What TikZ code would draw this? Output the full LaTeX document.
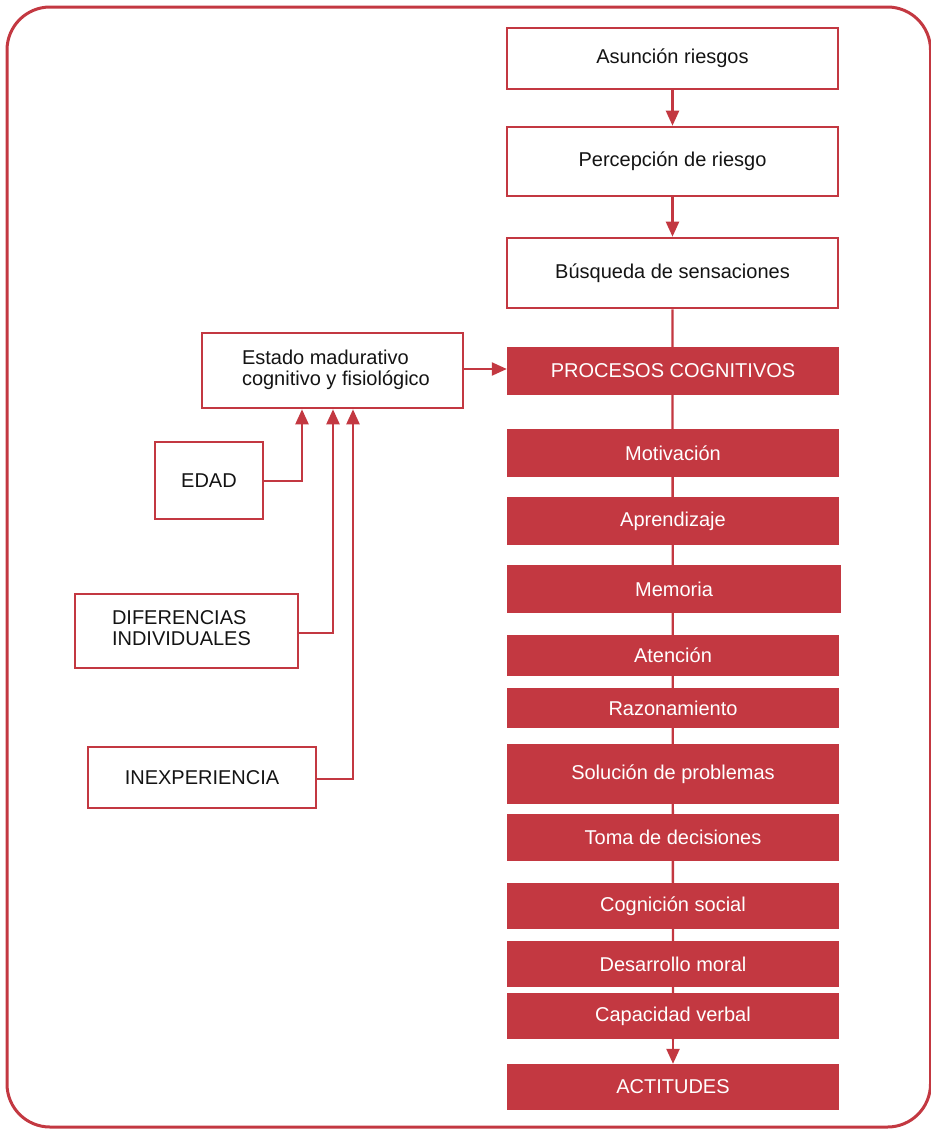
\documentclass[tikz,border=0pt]{standalone}
\usepackage{fontspec}
\setmainfont{Liberation Sans}
\usetikzlibrary{arrows.meta}
\definecolor{rojo}{RGB}{195,56,65}
\definecolor{tinta}{RGB}{20,20,20}
\tikzset{
  frame/.style={draw=rojo, line width=3pt, rounded corners=43pt},
  openbox/.style={draw=rojo, line width=2.6pt, fill=white, text=tinta,
    rectangle, inner sep=0pt, font=\fontsize{20}{21}\selectfont},
  fillbox/.style={fill=rojo, draw=none, text=white, rectangle, inner sep=0pt,
    font=\fontsize{20}{21}\selectfont},
  link/.style={draw=rojo, line width=2.3pt},
  arrowlink/.style={link, -{Triangle[length=15pt,width=13pt]}},
}
% a box given by its left, top, right and bottom edges (y grows downwards)
\newcommand\edgebox[7]{%
  \node[#1, minimum width={(#5)-(#3)}, minimum height={(#6)-(#4)}]
    (#2) at ({((#3)+(#5))/2},{((#4)+(#6))/2}) {#7};}
% two flush-left lines set in a slot of the given width
\newcommand\leftpair[3]{\makebox[#1][l]{\begin{tabular}{@{}l@{}}#2\\#3\end{tabular}}}
\begin{document}
\begin{tikzpicture}[x=1pt, y=-1pt]
\useasboundingbox (0,0) rectangle (931,1130);
\draw[frame] (7,7) rectangle (930.5,1127);

% main column
\edgebox{openbox}{asun}{507}{28}{838}{89}{Asunción riesgos}
\edgebox{openbox}{perc}{507}{127}{838}{196}{Percepción de riesgo}
\edgebox{openbox}{busq}{507}{238}{838}{308}{Búsqueda de sensaciones}

% influences on maturity
\edgebox{openbox}{estado}{202}{333}{463}{408}{\leftpair{181pt}{Estado madurativo}{cognitivo y fisiológico}}
\edgebox{openbox}{edad}{155}{442}{263}{519}{EDAD}
\edgebox{openbox}{dif}{75}{594}{298}{668}{\leftpair{149pt}{DIFERENCIAS}{INDIVIDUALES}}
\edgebox{openbox}{inex}{88}{747}{316}{808}{INEXPERIENCIA}

% vertical spine behind the process boxes
\draw[link] (busq.south) -- (673,1040);

\edgebox{fillbox}{proc}{507}{347}{839}{395}{PROCESOS COGNITIVOS}
\edgebox{fillbox}{moti}{507}{429}{839}{477}{Motivación}
\edgebox{fillbox}{apre}{507}{497}{839}{545}{Aprendizaje}
\edgebox{fillbox}{memo}{507}{565}{841}{613}{Memoria}
\edgebox{fillbox}{aten}{507}{635}{839}{676}{Atención}
\edgebox{fillbox}{razo}{507}{688}{839}{728}{Razonamiento}
\edgebox{fillbox}{solu}{507}{744}{839}{804}{Solución de problemas}
\edgebox{fillbox}{toma}{507}{814}{839}{861}{Toma de decisiones}
\edgebox{fillbox}{cogn}{507}{883}{839}{929}{Cognición social}
\edgebox{fillbox}{desa}{507}{941}{839}{987}{Desarrollo moral}
\edgebox{fillbox}{capa}{507}{993}{839}{1039}{Capacidad verbal}
\edgebox{fillbox}{acti}{507}{1064}{839}{1110}{ACTITUDES}

% arrows along the main column
\draw[arrowlink] (asun.south) -- (perc.north);
\draw[arrowlink] (perc.south) -- (busq.north);
\draw[arrowlink] (capa.south) -- (acti.north);

% maturity feeds the cognitive processes
\draw[arrowlink] (estado.east |- 0,369) -- (proc.west |- 0,369);

% factors feeding the maturity box
\draw[arrowlink] (edad.east |- 0,481) -| (estado.south -| 302,0);
\draw[arrowlink] (dif.east |- 0,633) -| (estado.south -| 333,0);
\draw[arrowlink] (inex.east |- 0,779) -| (estado.south -| 353,0);
\end{tikzpicture}
\end{document}
